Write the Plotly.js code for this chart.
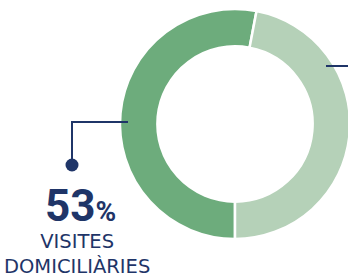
<!DOCTYPE html>
<html><head><meta charset="utf-8">
<script src="https://cdn.plot.ly/plotly-3.0.1.min.js"></script>
<style>html,body{margin:0;padding:0;overflow:hidden;background:#fff;width:348px;height:278px}#c{width:360px;height:278px}</style>
</head><body><div id="c"></div>
<script>
const labels = ["Visites domiciliàries", "Altres"];
const values = [53, 47];
const colors = ["#6dac7c", "#b5d1b8"];
const W = 360, H = 278;
const px = x => x / W, py = y => 1 - y / H;
const navy = "#1f3568";
const data = [{
  type: "pie", labels: labels, values: values, hole: 0.675, sort: false,
  direction: "clockwise", rotation: 180, textinfo: "none", hoverinfo: "none",
  marker: {colors: colors, line: {color: "#ffffff", width: 2.5}},
  domain: {x: [px(120), px(350)], y: [py(239), py(9)]}
}];
const layout = {
  width: W, height: H, margin: {l:0, r:0, t:0, b:0}, showlegend: false,
  paper_bgcolor: "#fff",
  shapes: [
    {type:"path", xref:"paper", yref:"paper",
     path: `M ${px(128)} ${py(122)} L ${px(72)} ${py(122)} L ${px(72)} ${py(162)}`,
     line:{color:navy, width:2}},
    {type:"circle", xref:"paper", yref:"paper", fillcolor:navy, line:{color:navy, width:0},
     x0:px(65.5), x1:px(78.5), y0:py(158.5), y1:py(171.5)},
    {type:"line", xref:"paper", yref:"paper", x0:px(326), x1:px(360), y0:py(66), y1:py(66),
     line:{color:navy, width:2}}
  ],
  annotations: [
    {xref:"paper", yref:"paper", x:px(80), y:py(234), xanchor:"center", yanchor:"bottom", showarrow:false,
     text:"<b>53<span style='font-size:28px'>%</span></b>",
     font:{family:"Roboto, sans-serif", size:44, color:navy}},
    {xref:"paper", yref:"paper", x:px(77), y:py(279), xanchor:"center", yanchor:"bottom", showarrow:false, borderpad:0,
     text:"VISITES<br>DOMICILIÀRIES", align:"center",
     font:{family:"DejaVu Sans, sans-serif", size:19.5, color:navy}}
  ]
};
Plotly.newPlot("c", data, layout, {staticPlot:true, displayModeBar:false});
</script></body></html>
